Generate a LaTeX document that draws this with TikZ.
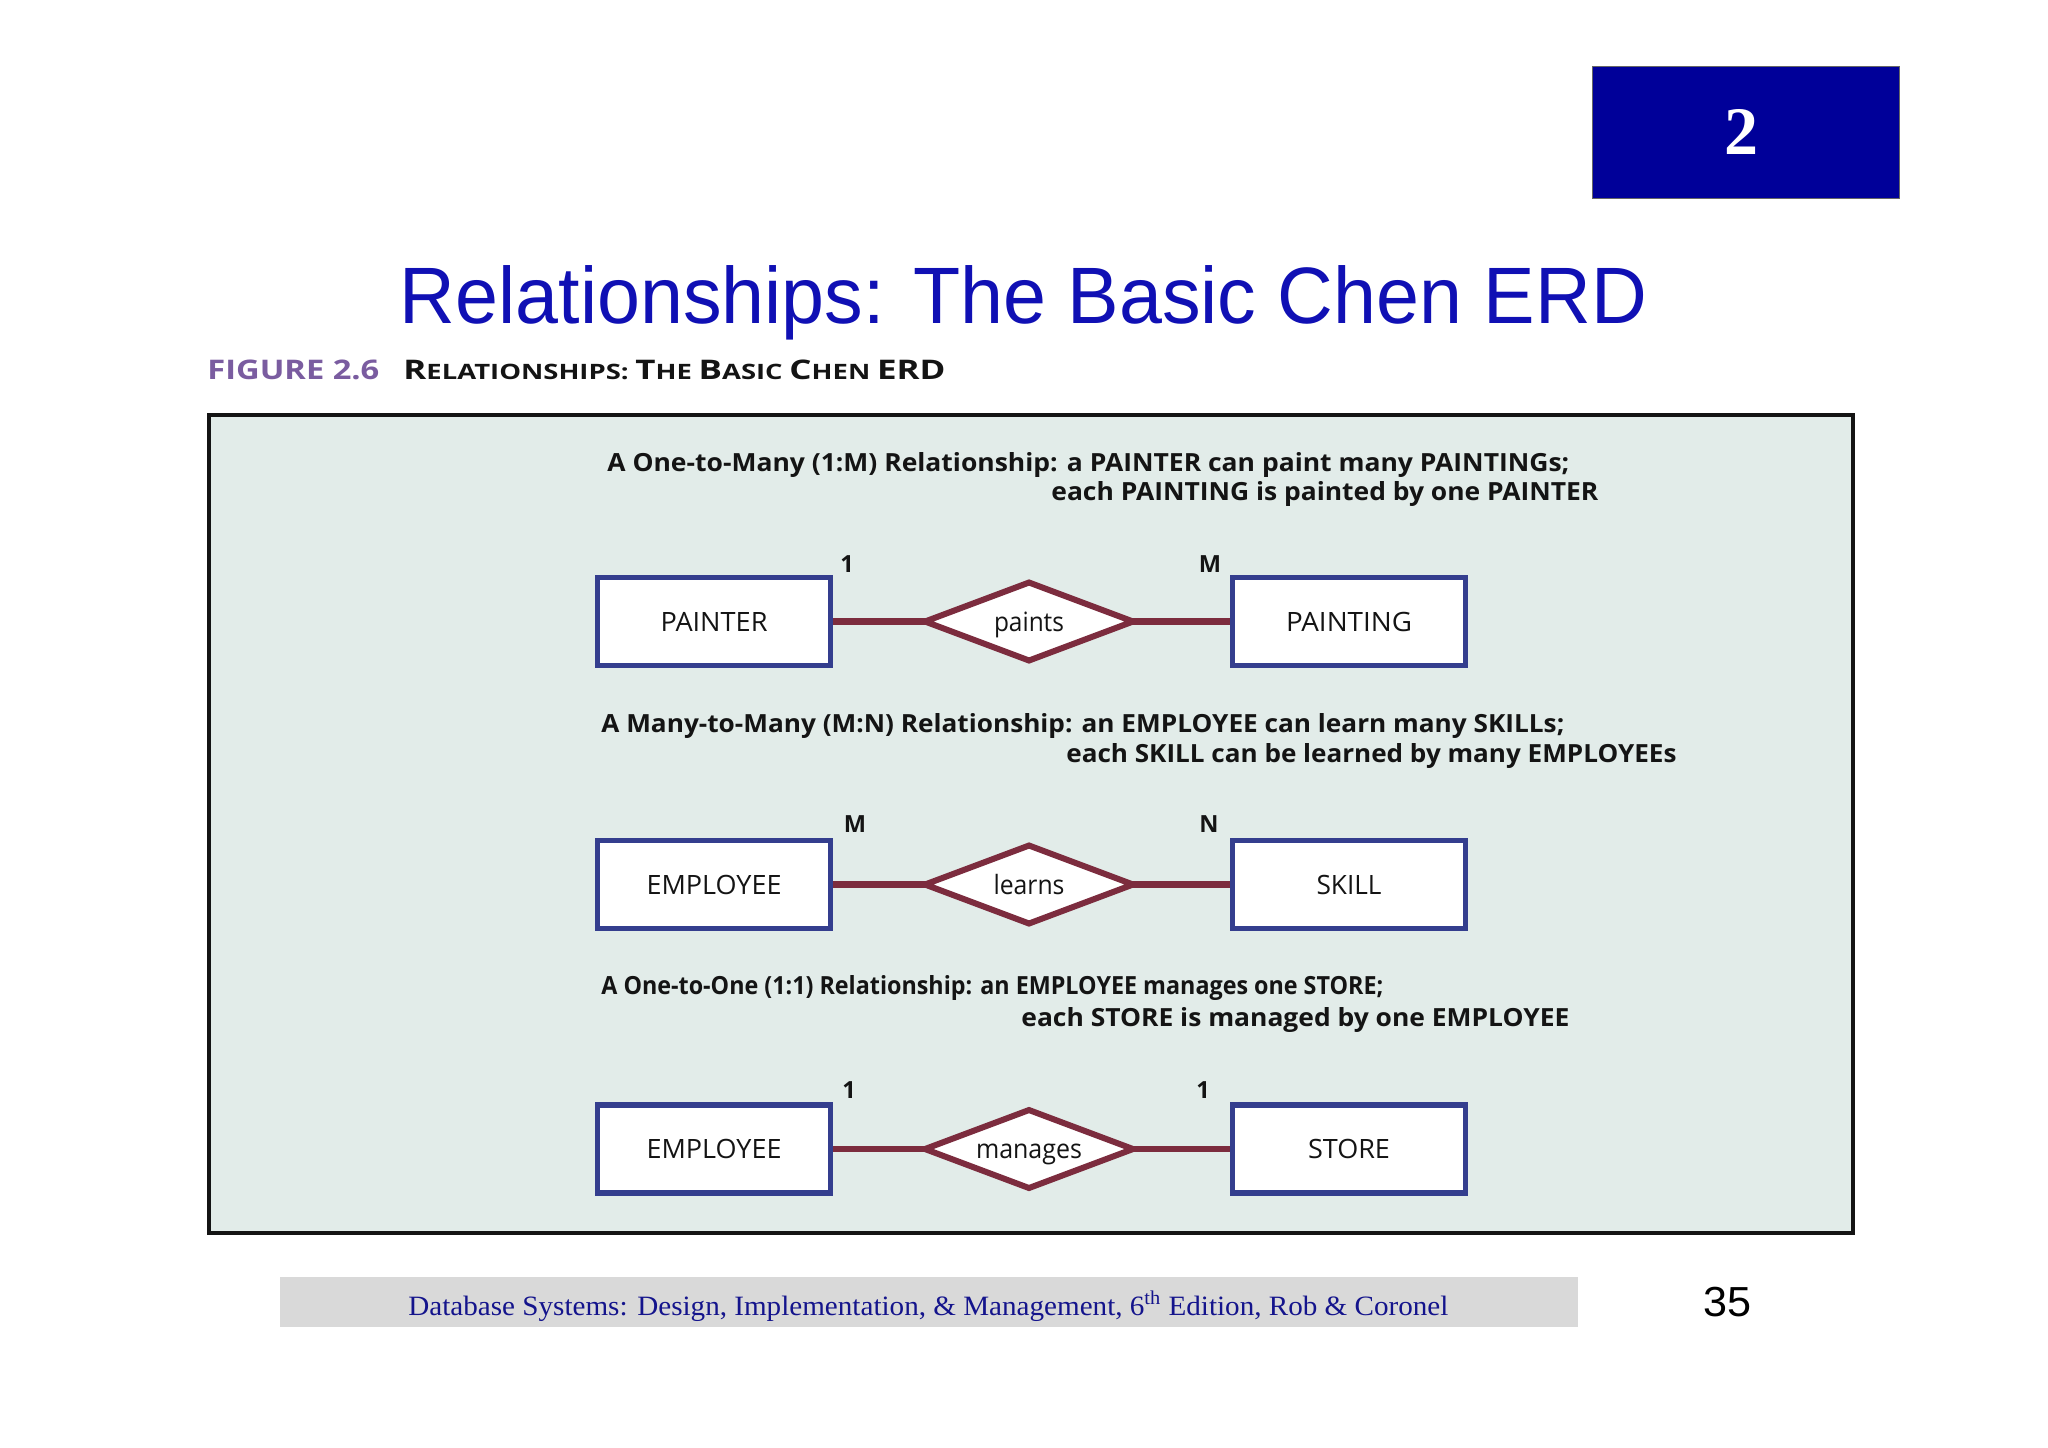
\documentclass[tikz,border=0pt]{standalone}
\usepackage{fontspec}
\usepackage{graphicx}
\setmainfont{Liberation Serif}
\newfontfamily\titlefont{Liberation Sans}
\newfontfamily\erdfont{Open Sans}
\usetikzlibrary{shapes.geometric}
\definecolor{slideblue}{RGB}{0,0,153}
\definecolor{titleblue}{RGB}{16,16,180}
\definecolor{capviolet}{RGB}{122,92,160}
\definecolor{panelbg}{RGB}{226,236,233}
\definecolor{entblue}{RGB}{52,62,142}
\definecolor{relred}{RGB}{124,44,62}
\definecolor{footgray}{RGB}{217,217,217}
\definecolor{foottext}{RGB}{20,20,140}
\definecolor{inkblack}{RGB}{20,20,20}
\newcommand\fitto[2]{\resizebox{#1}{\height}{#2}}
\newcommand\erdlabel{\erdfont\fontsize{13.3pt}{15pt}\selectfont}
\newcommand\erdbold{\erdfont\bfseries\fontsize{12.5pt}{14pt}\selectfont}
\newcommand\erdcard{\erdfont\bfseries\fontsize{11.8pt}{13pt}\selectfont}
\newcommand\scA[1]{{\fontsize{13.5pt}{15pt}\selectfont #1}}
\newcommand\scB[1]{{\fontsize{10.6pt}{15pt}\selectfont #1}}
\tikzset{
  entity/.style={draw=entblue, line width=2.6pt, fill=white, minimum width=116.5pt,
    minimum height=44pt, inner sep=0pt, outer sep=0pt, font=\erdlabel, text=inkblack},
  relation/.style={shape=diamond, draw=relred, line width=3pt, fill=white,
    minimum width=104pt, minimum height=39pt, aspect=2.6, inner sep=0pt, outer sep=0pt,
    line join=miter, font=\erdlabel, text=inkblack, text height=9.5pt, text depth=0pt},
  conn/.style={draw=relred, line width=3.1pt, shorten <=1.3pt},
  card/.style={font=\erdcard, anchor=base, inner sep=0pt, text=inkblack},
  desc/.style={font=\erdbold, anchor=base west, inner sep=0pt, text=inkblack},
}
\begin{document}
\begin{tikzpicture}[x=0.5pt,y=-0.5pt]
\useasboundingbox (0,0) rectangle (2048,1447);
\fill[white] (0,0) rectangle (2048,1447);

% chapter badge
\node[draw=black!60, line width=0.5pt, fill=slideblue, minimum width=153.5pt, minimum height=66pt,
      inner sep=0pt, anchor=north west] (badge) at (1592,66) {};
\node[text=white, font=\bfseries\fontsize{34pt}{36pt}\selectfont, inner sep=0pt] (badgenum) at (1741,132) {2};

% title
\node[text=titleblue, font=\titlefont\fontsize{40pt}{44pt}\selectfont, anchor=base, inner sep=0pt]
  (title) at (1023.5,323) {\fitto{623.5pt}{Relationships: The Basic Chen ERD}};

% figure caption
\node[text=capviolet, font=\erdfont\bfseries\fontsize{13.5pt}{15pt}\selectfont, anchor=base west, inner sep=0pt]
  (figno) at (207,379) {\fitto{86pt}{FIGURE 2.6}};
\node[text=inkblack, font=\erdfont\bfseries, anchor=base west, inner sep=0pt]
  (figtitle) at (403,379) {\fitto{271pt}{\scA{R}\scB{ELATIONSHIPS:} \scA{T}\scB{HE} \scA{B}\scB{ASIC} \scA{C}\scB{HEN} \scA{ERD}}};

% panel
\node[draw=inkblack, line width=2pt, fill=panelbg, minimum width=822pt, minimum height=409pt,
      inner sep=0pt, anchor=north west] (panel) at (207,413) {};

% block 1
\node[desc] (t1a) at (607,471) {\fitto{481pt}{A One-to-Many (1:M) Relationship: a PAINTER can paint many PAINTINGs;}};
\node[desc] (t1b) at (1051,500) {\fitto{273.5pt}{each PAINTING is painted by one PAINTER}};
\node[entity] (e1a) at (714,621.5) {\fitto{53.5pt}{PAINTER}};
\node[relation] (r1) at (1029,621.5) {\fitto{35pt}{paints}};
\node[entity] (e1b) at (1349,621.5) {\fitto{63pt}{PAINTING}};
\node[card] (c1a) at (847,572) {1};
\node[card] (c1b) at (1210,572) {M};
\draw[conn] (e1a.east) -- (r1.west);
\draw[conn] (e1b.west) -- (r1.east);

% block 2
\node[desc] (t2a) at (601,732) {\fitto{481.5pt}{A Many-to-Many (M:N) Relationship: an EMPLOYEE can learn many SKILLs;}};
\node[desc] (t2b) at (1066,762) {\fitto{305pt}{each SKILL can be learned by many EMPLOYEEs}};
\node[entity] (e2a) at (714,884.5) {\fitto{67.5pt}{EMPLOYEE}};
\node[relation] (r2) at (1029,884.5) {\fitto{35.5pt}{learns}};
\node[entity] (e2b) at (1349,884.5) {\fitto{32.5pt}{SKILL}};
\node[card] (c2a) at (855,832) {M};
\node[card] (c2b) at (1209,832) {N};
\draw[conn] (e2a.east) -- (r2.west);
\draw[conn] (e2b.west) -- (r2.east);

% block 3
\node[desc] (t3a) at (601,994) {\fitto{391pt}{A One-to-One (1:1) Relationship: an EMPLOYEE manages one STORE;}};
\node[desc] (t3b) at (1021,1026) {\fitto{274pt}{each STORE is managed by one EMPLOYEE}};
\node[entity] (e3a) at (714,1149) {\fitto{67.5pt}{EMPLOYEE}};
\node[relation] (r3) at (1029,1149) {\fitto{53pt}{manages}};
\node[entity] (e3b) at (1349,1149) {\fitto{41pt}{STORE}};
\node[card] (c3a) at (849,1098) {1};
\node[card] (c3b) at (1203,1098) {1};
\draw[conn] (e3a.east) -- (r3.west);
\draw[conn] (e3b.west) -- (r3.east);

% footer
\node[fill=footgray, minimum width=649pt, minimum height=25pt, inner sep=0pt, anchor=north west]
  (footbar) at (280,1277) {};
\node[text=foottext, font=\fontsize{14pt}{16pt}\selectfont, anchor=base west, inner sep=0pt]
  (foottxt) at (408,1315) {\fitto{520pt}{Database Systems: Design, Implementation, \& Management, 6\textsuperscript{th} Edition, Rob \& Coronel}};
\node[text=black, font=\titlefont\fontsize{21pt}{23pt}\selectfont, anchor=base, inner sep=0pt]
  (pagenum) at (1727,1316) {\fitto{24pt}{35}};
\end{tikzpicture}
\end{document}
